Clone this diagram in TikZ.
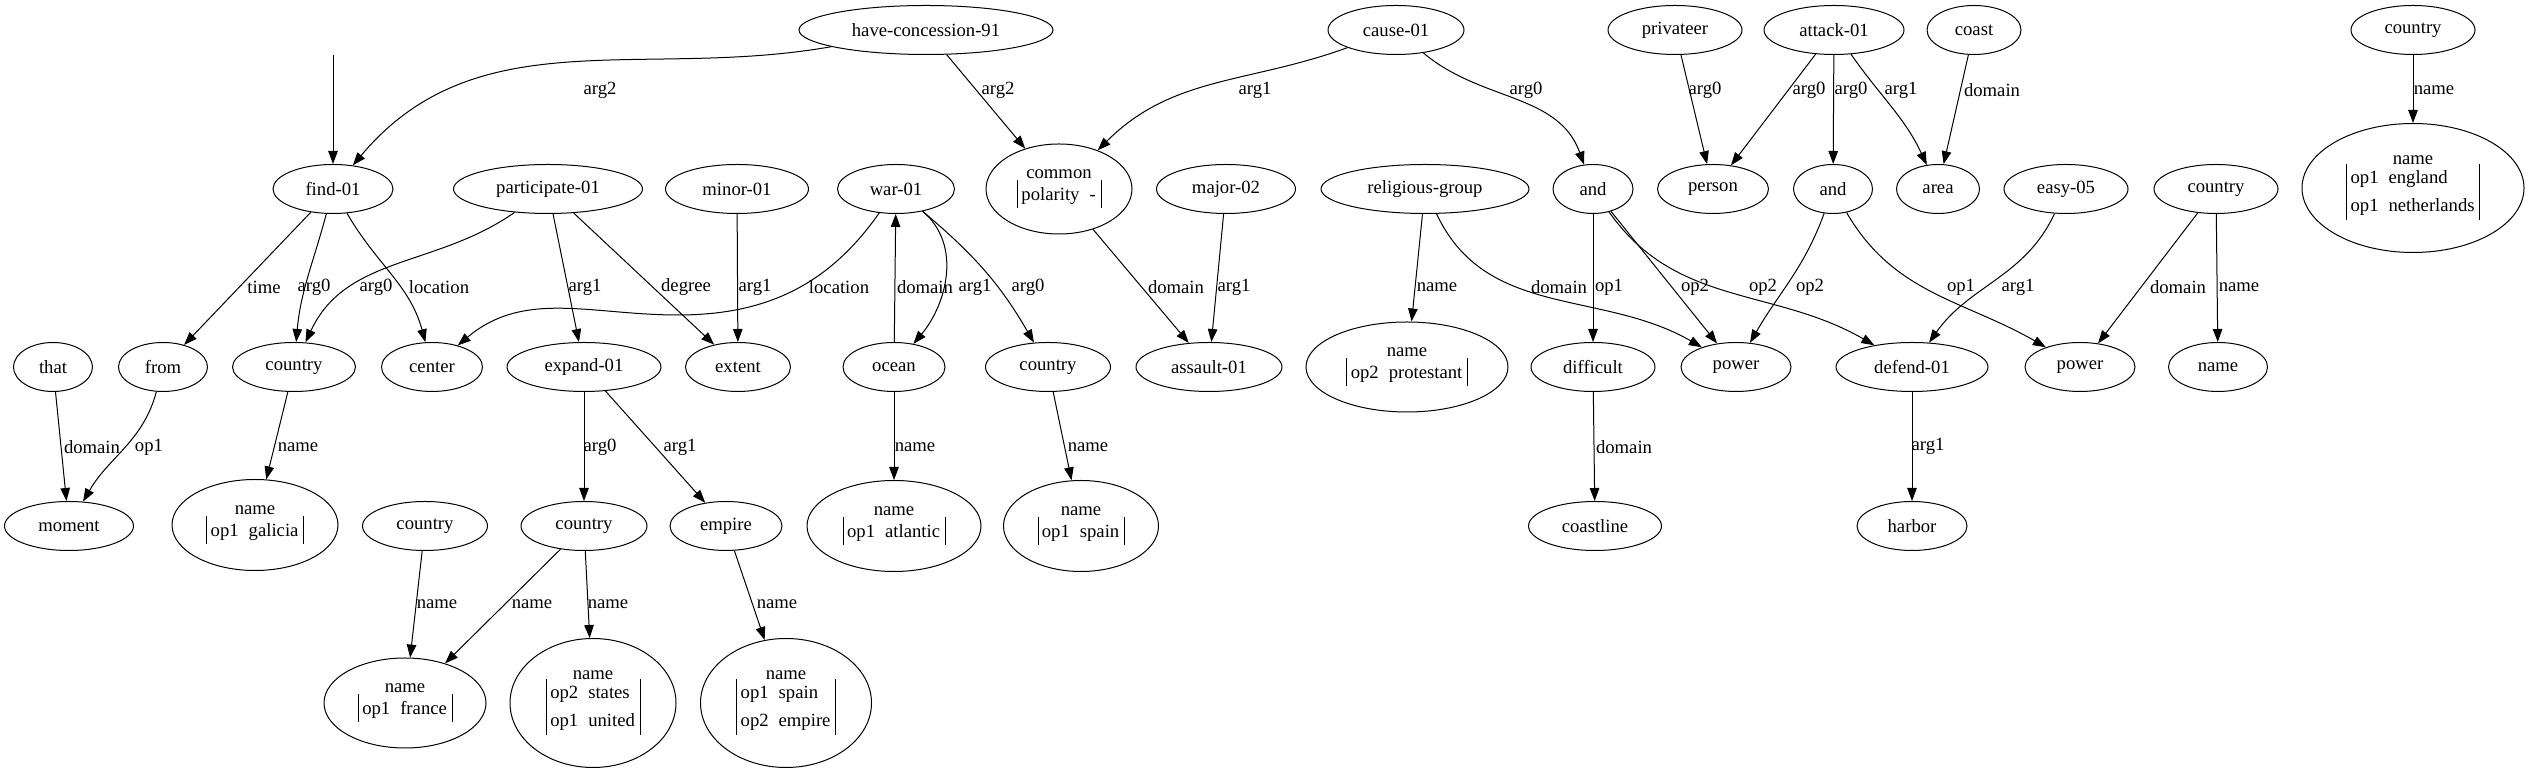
\documentclass[tikz,border=0pt]{standalone}
\usepackage{fontspec}
\setmainfont{Liberation Serif}
\usepackage{tikz}
\usetikzlibrary{shapes.geometric,arrows.meta}

% attribute table of a name node
\newcommand{\optab}[1]{{\renewcommand{\arraystretch}{1.25}\setlength{\tabcolsep}{0pt}%
  \begin{tabular}{|@{\hspace{4pt}}l@{\hspace{10pt}}l@{\hspace{5pt}}|}#1\end{tabular}}}

\begin{document}
\begin{tikzpicture}[x=1pt, y=1pt, line width=1pt,
    font=\fontsize{18.67}{22.4}\selectfont,
    amr/.style={draw, ellipse, inner sep=0pt, minimum height=49pt, align=center},
    rel/.style={-{Triangle[length=13pt,width=9.5pt]}},
    lbl/.style={inner sep=0pt}]
        \useasboundingbox (0,0) rectangle (2529,775);

        % top row
        \node[amr, minimum width=254pt] (hc) at (926,745) {have-concession-91};
        \node[amr, minimum width=136pt] (cause) at (1396,745) {cause-01};
        \node[amr, minimum width=134pt] (privateer) at (1675,745) {privateer};
        \node[amr, minimum width=140pt] (attack) at (1834,745) {attack-01};
        \node[amr, minimum width=94pt] (coast) at (1974,745) {coast};
        \node[amr, minimum width=124pt] (ctryTR) at (2413,745) {country};

        % second row
        \node[amr, minimum width=120pt] (find) at (333,586) {find-01};
        \node[amr, minimum width=189pt] (part) at (548,586) {participate-01};
        \node[amr, minimum width=143pt] (minor) at (737,586) {minor-01};
        \node[amr, minimum width=117pt] (war) at (896,586) {war-01};
        \node[amr, minimum width=146pt, minimum height=90pt] (common) at (1059,586) {common\\[-2pt]\optab{polarity & -}};
        \node[amr, minimum width=139pt] (major) at (1226,586) {major-02};
        \node[amr, minimum width=208pt] (relig) at (1425,586) {religious-group};
        \node[amr, minimum width=80pt] (and1) at (1593,586) {and};
        \node[amr, minimum width=111pt] (person) at (1713,586) {person};
        \node[amr, minimum width=79pt] (and2) at (1833,586) {and};
        \node[amr, minimum width=83pt] (area) at (1938,586) {area};
        \node[amr, minimum width=124pt] (easy) at (2066,586) {easy-05};
        \node[amr, minimum width=124pt] (ctryR) at (2216,586) {country};
        \node[amr, minimum width=222pt, minimum height=129pt] (nameEN) at (2413,587) {name\\[-2pt]\optab{op1 & england\\ op1 & netherlands}};

        % third row
        \node[amr, minimum width=79pt] (that) at (53,408) {that};
        \node[amr, minimum width=89pt] (from) at (163,408) {from};
        \node[amr, minimum width=123pt] (ctryG) at (294,408) {country};
        \node[amr, minimum width=101pt] (center) at (432,408) {center};
        \node[amr, minimum width=154pt] (expand) at (584,408) {expand-01};
        \node[amr, minimum width=105pt] (extent) at (738,408) {extent};
        \node[amr, minimum width=102pt] (ocean) at (894,408) {ocean};
        \node[amr, minimum width=125pt] (ctryS) at (1048,408) {country};
        \node[amr, minimum width=146pt] (assault) at (1209,408) {assault-01};
        \node[amr, minimum width=202pt, minimum height=90pt] (nameP) at (1407,408) {name\\[-2pt]\optab{op2 & protestant}};
        \node[amr, minimum width=124pt] (difficult) at (1593,408) {difficult};
        \node[amr, minimum width=110pt] (power1) at (1736,408) {power};
        \node[amr, minimum width=152pt] (defend) at (1912,408) {defend-01};
        \node[amr, minimum width=110pt] (power2) at (2080,408) {power};
        \node[amr, minimum width=99pt] (nameC) at (2218,408) {name};

        % fourth row
        \node[amr, minimum width=129pt] (moment) at (69,249) {moment};
        \node[amr, minimum width=166pt, minimum height=91pt] (nameG) at (255,250) {name\\[-2pt]\optab{op1 & galicia}};
        \node[amr, minimum width=125pt] (ctryF) at (425,249) {country};
        \node[amr, minimum width=126pt] (ctryU) at (584,249) {country};
        \node[amr, minimum width=112pt] (empire) at (726,249) {empire};
        \node[amr, minimum width=174pt, minimum height=91pt] (nameA) at (894,249) {name\\[-2pt]\optab{op1 & atlantic}};
        \node[amr, minimum width=155pt, minimum height=91pt] (nameS) at (1081,249) {name\\[-2pt]\optab{op1 & spain}};
        \node[amr, minimum width=133pt] (coastline) at (1595,249) {coastline};
        \node[amr, minimum width=110pt] (harbor) at (1912,249) {harbor};

        % bottom row
        \node[amr, minimum width=162pt, minimum height=90pt] (nameF) at (405,72) {name\\[-2pt]\optab{op1 & france}};
        \node[amr, minimum width=166pt, minimum height=129pt] (nameU) at (593,72) {name\\[-2pt]\optab{op2 & states\\ op1 & united}};
        \node[amr, minimum width=171pt, minimum height=129pt] (nameE) at (786,72) {name\\[-2pt]\optab{op1 & spain\\ op2 & empire}};

        % root arrow
        \coordinate (top) at (333,720);
        \draw[rel] (top) -- (find);

        % edges out of the top row
        \draw[rel] (hc) to[out=190,in=50] (find) node[lbl] at (600,685) {arg2};
        \draw[rel] (hc) -- (common) node[lbl] at (998,685) {arg2};
        \draw[rel] (cause) to[out=200,in=45] (common) node[lbl] at (1255,685) {arg1};
        \draw[rel] (cause) to[out=-40,in=110] (and1) node[lbl] at (1526,685) {arg0};
        \draw[rel] (privateer) -- (person) node[lbl] at (1705,685) {arg0};
        \draw[rel] (attack) -- (person) node[lbl] at (1809,685) {arg0};
        \draw[rel] (attack) -- (and2) node[lbl] at (1851,685) {arg0};
        \draw[rel] (attack) to[out=-55,in=115] (area) node[lbl] at (1901,685) {arg1};
        \draw[rel] (coast) -- (area) node[lbl] at (1992,685) {domain};
        \draw[rel] (ctryTR) -- (nameEN) node[lbl] at (2434,685) {name};

        % edges out of the second row
        \draw[rel] (find) -- (from) node[lbl] at (264,488) {time};
        \draw[rel] (find) to[out=-105,in=85] (ctryG) node[lbl] at (314,488) {arg0};
        \draw[rel] (part) to[out=215,in=65] (ctryG) node[lbl] at (376,488) {arg0};
        \draw[rel] (find) to[out=-60,in=105] (center) node[lbl] at (439,488) {location};
        \draw[rel] (part) -- (expand) node[lbl] at (585,488) {arg1};
        \draw[rel] (part) -- (extent) node[lbl] at (686,488) {degree};
        \draw[rel] (minor) -- (extent) node[lbl] at (755,488) {arg1};
        \draw[rel] (war) to[out=235,in=0] (678,460) to[out=180,in=40] (center) node[lbl] at (839,488) {location};
        \draw[rel] (ocean) -- (war) node[lbl] at (925,488) {domain};
        \draw[rel] (war) to[out=-40,in=50] (ocean) node[lbl] at (975,488) {arg1};
        \draw[rel] (war) to[out=-40,in=120] (ctryS) node[lbl] at (1028,488) {arg0};
        \draw[rel] (common) -- (assault) node[lbl] at (1176,488) {domain};
        \draw[rel] (major) -- (assault) node[lbl] at (1234,488) {arg1};
        \draw[rel] (relig) -- (nameP) node[lbl] at (1437,488) {name};
        \draw[rel] (relig) to[out=-65,in=150] (power1) node[lbl] at (1559,488) {domain};
        \draw[rel] (and1) -- (difficult) node[lbl] at (1609,488) {op1};
        \draw[rel] (and1) -- (power1) node[lbl] at (1695,488) {op2};
        \draw[rel] (and1) to[out=-55,in=150] (defend) node[lbl] at (1763,488) {op2};
        \draw[rel] (and2) to[out=-110,in=60] (power1) node[lbl] at (1810,488) {op2};
        \draw[rel] (and2) to[out=-60,in=150] (power2) node[lbl] at (1961,488) {op1};
        \draw[rel] (easy) to[out=-115,in=55] (defend) node[lbl] at (2018,488) {arg1};
        \draw[rel] (ctryR) -- (power2) node[lbl] at (2178,488) {domain};
        \draw[rel] (ctryR) -- (nameC) node[lbl] at (2239,488) {name};

        % edges out of the third row
        \draw[rel] (that) -- (moment) node[lbl] at (92,328) {domain};
        \draw[rel] (from) to[out=-105,in=60] (moment) node[lbl] at (149,328) {op1};
        \draw[rel] (ctryG) -- (nameG) node[lbl] at (298,328) {name};
        \draw[rel] (expand) -- (ctryU) node[lbl] at (600,328) {arg0};
        \draw[rel] (expand) -- (empire) node[lbl] at (680,328) {arg1};
        \draw[rel] (ocean) -- (nameA) node[lbl] at (915,328) {name};
        \draw[rel] (ctryS) -- (nameS) node[lbl] at (1088,328) {name};
        \draw[rel] (difficult) -- (coastline) node[lbl] at (1624,328) {domain};
        \draw[rel] (defend) -- (harbor) node[lbl] at (1928,329) {arg1};

        % edges out of the fourth row
        \draw[rel] (ctryF) -- (nameF) node[lbl] at (437,171) {name};
        \draw[rel] (ctryU) -- (nameF) node[lbl] at (532,171) {name};
        \draw[rel] (ctryU) -- (nameU) node[lbl] at (608,171) {name};
        \draw[rel] (empire) -- (nameE) node[lbl] at (777,171) {name};

    \end{tikzpicture}
\end{document}
